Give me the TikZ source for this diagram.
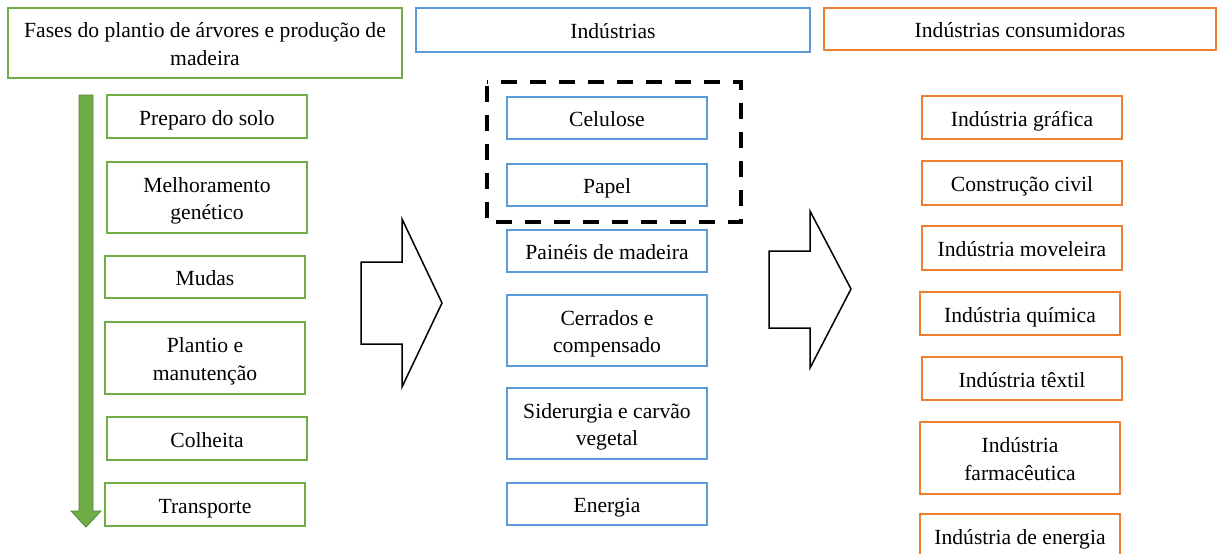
\documentclass[tikz,border=0pt]{standalone}
\usepackage{fontspec}
\setmainfont{Liberation Serif}
\definecolor{cgreen}{HTML}{70AD47}
\definecolor{cgreendk}{HTML}{548235}
\definecolor{cblue}{HTML}{5B9BD5}
\definecolor{corange}{HTML}{ED7D31}
\newcommand{\tsx}{\rule{0pt}{22pt}}
\newcommand{\bsx}{\rule[-5pt]{0pt}{5pt}}
\begin{document}
\begin{tikzpicture}[x=1pt,y=-1pt,
  base/.style={draw, line width=1.6pt, align=center, inner sep=0pt, fill=white,
    font=\fontsize{21.6}{27.5}\selectfont, minimum width=200pt},
  gbox/.style={base, draw=cgreen},
  bbox/.style={base, draw=cblue},
  obox/.style={base, draw=corange},
  blockarrow/.style={draw=black, line width=1.5pt, fill=white, line join=miter},
]
\useasboundingbox (0,0) rectangle (1218,554);
\fill[white] (0,0) rectangle (1218,554);

% headers
\node[gbox, minimum width=394pt, minimum height=70pt] (h1) at (205,43) {\tsx Fases do plantio de árvores e produção de\\madeira\bsx};
\node[bbox, minimum width=394pt, minimum height=44pt] (h2) at (613,30) {\tsx Indústrias\bsx};
\node[obox, minimum width=392pt, minimum height=42pt] (h3) at (1020,29) {\tsx Indústrias consumidoras\bsx};

% green down arrow
\filldraw[fill=cgreen, draw=cgreendk, line width=0.8pt]
  (79,95) -- (93,95) -- (93,511) -- (101,511) -- (86,527) -- (71,511) -- (79,511) -- cycle;

% left column
\node[gbox, minimum height=43pt] (a1) at (207,116.5) {\tsx Preparo do solo\bsx};
\node[gbox, minimum height=71pt] (a2) at (207,197.5) {\tsx Melhoramento\\genético\bsx};
\node[gbox, minimum height=42pt] (a3) at (205,277) {\tsx Mudas\bsx};
\node[gbox, minimum height=72pt] (a4) at (205,358) {\tsx Plantio e\\manutenção\bsx};
\node[gbox, minimum height=43pt] (a5) at (207,438.5) {\tsx Colheita\bsx};
\node[gbox, minimum height=43pt] (a6) at (205,504.5) {\tsx Transporte\bsx};

% middle column
\node[bbox, minimum height=42pt] (b1) at (607,118) {\tsx Celulose\bsx};
\node[bbox, minimum height=42pt] (b2) at (607,185) {\tsx Papel\bsx};
\node[bbox, minimum height=42pt] (b3) at (607,251) {\tsx Painéis de madeira\bsx};
\node[bbox, minimum height=71pt] (b4) at (607,330.5) {\tsx Cerrados e\\compensado\bsx};
\node[bbox, minimum height=71pt] (b5) at (607,423.5) {\tsx Siderurgia e carvão\\vegetal\bsx};
\node[bbox, minimum height=42pt] (b6) at (607,504) {\tsx Energia\bsx};

% dashed group
\draw[line width=4pt, dash pattern=on 16pt off 13pt, dash phase=-4pt] (487,82) rectangle (741,222);

% right column
\node[obox, minimum height=43pt] (c1) at (1022,117.5) {\tsx Indústria gráfica\bsx};
\node[obox, minimum height=44pt] (c2) at (1022,183) {\tsx Construção civil\bsx};
\node[obox, minimum height=44pt] (c3) at (1022,248) {\tsx Indústria moveleira\bsx};
\node[obox, minimum height=43pt] (c4) at (1020,313.5) {\tsx Indústria química\bsx};
\node[obox, minimum height=43pt] (c5) at (1022,378.5) {\tsx Indústria têxtil\bsx};
\node[obox, minimum height=72pt] (c6) at (1020,458) {\tsx Indústria\\farmacêutica\bsx};
\node[obox, minimum height=44pt] (c7) at (1020,536) {\tsx Indústria de energia\bsx};

% block arrows
\draw[blockarrow] (361,262) -- (402,262) -- (402,219) -- (442,303) -- (402,387) -- (402,344) -- (361,344) -- cycle;
\draw[blockarrow] (769,251) -- (810,251) -- (810,211) -- (851,289) -- (810,368) -- (810,328) -- (769,328) -- cycle;
\end{tikzpicture}
\end{document}
